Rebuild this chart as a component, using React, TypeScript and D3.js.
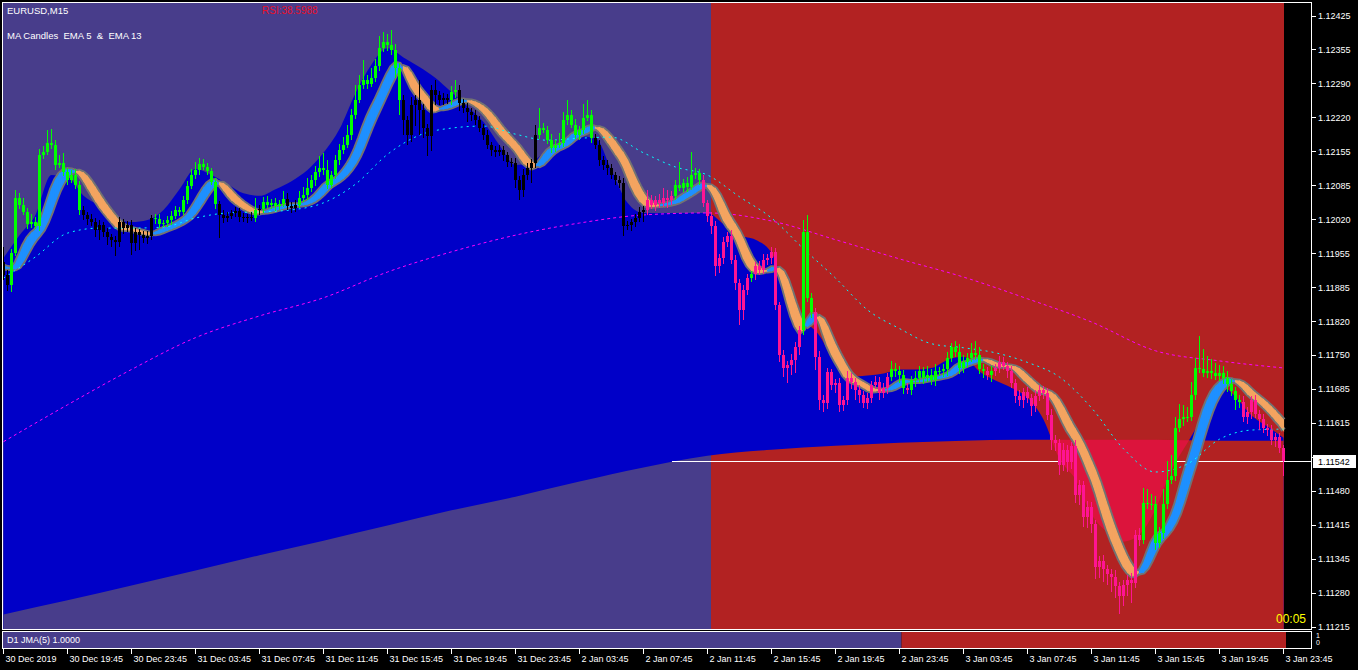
import React from 'react';
import * as d3 from 'd3';

// ---------- DATA (prices in points above 1.11000, 1 point = 0.00001) ----------
const firstOpen = 937;
const closes = [
  911,892,955,1064,1050,1036,1012,1016,1008,1149,
  1154,1172,1168,1129,1133,1115,1099,1109,1089,1040,
  1030,1022,1016,1000,1010,996,986,981,977,1016,
  1004,1010,975,996,990,984,988,1024,1022,1012,
  1014,1020,1028,1040,1036,1060,1087,1109,1119,1131,
  1125,1117,1095,1052,1030,1024,1028,1034,1038,1026,
  1024,1026,1024,1040,1042,1056,1050,1054,1048,1052,
  1062,1048,1044,1050,1064,1069,1083,1099,1115,1123,
  1119,1089,1109,1139,1158,1168,1188,1228,1257,1287,
  1297,1289,1301,1325,1360,1372,1366,1356,1321,1257,
  1218,1188,1247,1257,1238,1202,1186,1277,1267,1257,
  1261,1257,1273,1277,1251,1241,1234,1228,1218,1202,
  1188,1168,1158,1154,1158,1149,1135,1133,1099,1079,
  1109,1123,1133,1188,1202,1198,1178,1162,1168,1172,
  1218,1228,1208,1188,1198,1222,1228,1182,1168,1139,
  1129,1123,1109,1099,1093,1008,1010,1016,1024,1036,
  1040,1060,1050,1060,1054,1064,1060,1068,1089,1083,
  1093,1085,1109,1113,1099,1054,1028,1008,929,945,
  977,988,941,896,842,882,905,913,929,921,
  941,945,957,851,753,727,733,743,769,803,
  996,865,837,749,664,658,719,694,698,654,
  664,708,700,684,674,658,668,694,700,678,
  688,710,724,720,714,688,684,704,708,720,
  708,714,704,720,720,724,747,769,759,727,
  739,747,757,753,724,720,714,720,727,739,
  731,720,698,672,664,680,668,652,672,684,
  678,633,585,579,534,565,541,573,476,496,
  431,451,417,332,344,328,318,314,296,275,
  298,308,302,397,387,459,457,457,381,401,
  457,506,514,609,625,629,629,674,727,725,
  717,720,717,711,717,708,696,682,664,660,
  629,639,664,635,625,609,605,585,591,569,542
];
const wickUp = [
  30,10,8,16,10,14,8,16,10,12, 12,26,28,10,16,20,8,10,12,8,
  8,6,10,8,10,6,8,6,8,10, 6,8,10,8,6,8,10,6,8,10,
  6,8,10,8,6,8,10,12,16,12, 10,8,6,8,6,10,8,6,8,6,
  8,6,10,24,8,10,12,8,10,8, 16,12,8,10,14,16,20,10,12,24,
  30,20,8,10,12,16,20,12,30,20, 40,10,20,14,24,20,16,30,12,10,
  10,8,16,10,40,12,8,10,20,8, 10,8,12,20,10,8,10,8,10,8,
  8,10,6,8,10,8,6,8,10,8, 12,10,8,20,40,10,8,12,10,20,
  16,30,10,12,8,28,30,10,8,10, 8,10,8,6,8,10,8,6,8,10,
  8,20,10,8,12,20,16,10,10,46, 8,12,46,10,8,10,6,8,10,8,
  10,8,12,10,8,10,8,6,8,10, 12,8,10,8,6,10,8,12,10,8,
  24,34,10,8,12,10,8,6,8,10, 8,12,10,8,10,8,10,8,12,10,
  10,8,16,12,10,8,10,8,12,10, 8,16,10,14,8,10,12,8,12,16,
  14,10,20,24,16,10,8,10,8,12, 10,8,10,8,12,8,10,8,12,10,
  8,10,12,10,8,14,10,8,12,10, 8,12,10,8,10,12,8,10,12,8,
  10,8,12,10,14,30,28,20,16,12, 30,36,40,20,30,24,20,26,20,64,
  40,30,24,20,16,14,12,10,8,10, 12,10,8,10,8,10,8,10,8,8,6
];
const wickDn = [
  10,12,14,6,8,6,10,8,6,10, 8,6,8,10,6,8,10,6,8,10,
  10,12,8,14,20,10,16,14,28,10, 12,8,24,16,30,10,12,8,10,8,
  6,8,10,6,8,6,8,6,8,10, 6,8,6,10,46,10,8,6,8,10,
  8,10,6,8,10,8,6,8,10,8, 6,8,10,8,6,8,10,8,12,10,
  10,8,6,8,10,8,6,10,8,6, 8,10,6,8,10,8,12,10,20,30,
  30,20,14,40,50,20,40,30,20,10, 10,8,10,12,16,10,20,12,10,8,
  10,8,12,10,8,12,10,8,16,20, 14,10,30,10,8,6,8,10,8,6,
  8,10,6,8,10,8,6,10,8,12, 10,14,8,10,10,20,8,12,10,8,
  20,10,8,12,10,8,16,10,8,6, 8,10,6,8,10,8,12,16,20,14,
  12,10,8,14,30,20,10,8,12,10, 8,10,12,10,14,18,30,20,26,16,
  10,8,12,26,20,18,12,10,16,14, 12,10,14,20,16,10,12,10,8,14,
  10,12,8,10,16,12,8,10,14,10, 12,8,10,12,8,10,12,8,10,12,
  10,12,8,10,8,12,10,14,8,10, 8,12,10,14,12,16,10,20,12,10,
  12,10,20,16,18,12,20,14,16,20, 18,20,16,22,20,24,20,30,24,36,
  20,22,40,10,12,8,10,12,14,10, 12,10,8,10,8,12,10,8,10,8,
  8,10,12,8,10,12,16,10,20,12, 10,12,14,8,20,10,12,10,14,10,28
];
// candle colour runs: g = lime, k = black, p = deep pink
const colorRuns: [string, number][] = [
  ['k',2],['g',18],['k',18],['g',16],['k',9],['g',1],['k',1],['g',6],['k',3],['g',26],
  ['k',12],['g',2],['k',20],['g',14],['k',13],['p',7],['g',7],['p',12],['g',1],['p',12],
  ['g',3],['p',19],['g',4],['p',1],['g',19],['p',1],['g',1],['p',37],['g',25],['p',11]
];
// cyan dashed MA, every 8 bars
const cyanMA = [905,947,994,1004,1004,1006,1024,1034,1036,1040,1054,1091,1150,1188,1202,1206,1190,1178,1182,1184,1153,1125,1109,1066,1024,963,905,842,805,775,767,757,738,709,648,567,521,537,586,604,606];
// magenta dashed MA, every 16 bars
const magentaMA = [581,654,724,787,830,866,917,957,990,1014,1030,1034,1018,981,943,907,864,818,761,741,727];
// slow base line of the histogram, every 16 bars
const baseLine = [239,267,296,326,356,385,415,445,472,502,530,553,565,573,579,583,585,585,585,583,583];
// histogram level, every 4 bars
const histLevel = [
  945,990,1030,1109,1105,1068,1048,1022,1016,1020,
  1040,1081,1121,1109,1091,1073,1068,1081,1097,1119,
  1153,1200,1271,1328,1360,1342,1323,1301,1273,1245,
  1214,1168,1129,1135,1158,1174,1186,1182,1119,1054,
  1034,1034,1034,1034,1034,1012,990,981,955,876,
  824,791,735,710,712,716,724,724,727,743,
  749,720,702,688,668,625,547,506,437,402,
  383,397,447,525,579,634,694,670,633,611,589
];
const maPeriod1 = 5;   // first smoothing of OHLC
const maPeriod2 = 5;   // second smoothing of the Heikin-Ashi values
const priceLabels = ["1.12425","1.12355","1.12290","1.12220","1.12155","1.12085","1.12020","1.11955","1.11885","1.11820","1.11750","1.11685","1.11615","1.11550","1.11480","1.11415","1.11345","1.11280","1.11215"];
const timeLabels = ["30 Dec 2019","30 Dec 19:45","30 Dec 23:45","31 Dec 03:45","31 Dec 07:45","31 Dec 11:45","31 Dec 15:45","31 Dec 19:45","31 Dec 23:45","2 Jan 03:45","2 Jan 07:45","2 Jan 11:45","2 Jan 15:45","2 Jan 19:45","2 Jan 23:45","3 Jan 03:45","3 Jan 07:45","3 Jan 11:45","3 Jan 15:45","3 Jan 19:45","3 Jan 23:45"];
const currentPrice = 1.11542;
const trendSwitchBar = 177;   // main background turns red
const d1SwitchBar = 224.5;    // lower panel turns red

const C = {
  purple: '#483D8B', red: '#B22222', blue: '#0000C8', crimson: '#DC143C',
  lime: '#00FF00', pink: '#FF1493', ribbonUp: '#1E90FF', ribbonDn: '#F4A460', gray: '#737373',
  cyan: '#00FFFF', magenta: '#FF00FF'
};
const FONT = 'Liberation Sans, Arial, sans-serif';

export default function App() {
  const L = 3, T = 3, R = 1311, B = 629;
  const n = closes.length;
  const x = d3.scaleLinear().domain([0, n - 1]).range([3.5, 1283.5]);
  const y = d3.scaleLinear().domain([1.11215, 1.12425]).range([626.5, 15.5]);
  const P = (v: number) => 1.11 + v * 1e-5;
  const yv = (v: number) => y(P(v));

  const colors: string[] = [];
  colorRuns.forEach(([c, k]) => { for (let j = 0; j < k; j++) colors.push(c); });
  const colMap: Record<string, string> = { g: C.lime, k: '#000000', p: C.pink };

  const opens = closes.map((c, i) => (i === 0 ? firstOpen : closes[i - 1]));
  const highs = closes.map((c, i) => Math.max(opens[i], c) + wickUp[i]);
  const lows = closes.map((c, i) => Math.min(opens[i], c) - wickDn[i]);

  const ema = (src: number[], per: number) => {
    const a = 2 / (per + 1);
    const out: number[] = [];
    src.forEach((c, i) => out.push(i === 0 ? c : out[i - 1] + a * (c - out[i - 1])));
    return out;
  };
  // smoothed Heikin-Ashi ("MA candles")
  const sO = ema(opens, maPeriod1), sC = ema(closes, maPeriod1), sH = ema(highs, maPeriod1), sL = ema(lows, maPeriod1);
  const haC = sC.map((c, i) => (sO[i] + sH[i] + sL[i] + c) / 4);
  const haO: number[] = [];
  haC.forEach((c, i) => haO.push(i === 0 ? (sO[0] + sC[0]) / 2 : (haO[i - 1] + haC[i - 1]) / 2));
  const eo = ema(haO, maPeriod2), ec = ema(haC, maPeriod2);

  const lineFrom = (arr: number[], step: number) =>
    d3.line<number>().x((_, k) => x(k * step)).y(d => yv(d)).curve(d3.curveMonotoneX)(arr) || '';
  const areaFrom = (arr: number[], step: number, y0: number) =>
    d3.area<number>().x((_, k) => x(k * step)).y0(y0).y1(d => yv(d)).curve(d3.curveMonotoneX)(arr) || '';

  const histBelow = areaFrom(histLevel, 4, B);
  const histAbove = areaFrom(histLevel, 4, T);
  const baseBelow = areaFrom(baseLine, 16, B);
  const xSwitch = x(trendSwitchBar) - 0.5;
  const xEnd = x(n - 1) + 1.5;

  const ribbon = [];
  for (let i = 0; i < n - 1; i++) {
    const up = ec[i] + ec[i + 1] >= eo[i] + eo[i + 1];
    const col = up ? C.ribbonUp : C.ribbonDn;
    const pts = [[x(i), yv(ec[i])], [x(i + 1), yv(ec[i + 1])], [x(i + 1), yv(eo[i + 1])], [x(i), yv(eo[i])]];
    ribbon.push(<polygon key={i} points={pts.map(p => p.join(',')).join(' ')} fill={col} stroke={col} strokeWidth={1.2} />);
  }
  const oLine = d3.line<number>().x((_, i) => x(i)).y(d => yv(d))(eo) || '';
  const cLine = d3.line<number>().x((_, i) => x(i)).y(d => yv(d))(ec) || '';

  const candles = closes.map((c, i) => {
    const o = opens[i];
    const col = colMap[colors[i]];
    const top = yv(Math.max(o, c)), bot = yv(Math.min(o, c));
    const cx = Math.round(x(i) - 0.5);
    return (
      <g key={i}>
        <rect x={cx} y={Math.round(yv(highs[i]))} width={1} height={Math.max(1, Math.round(yv(lows[i])) - Math.round(yv(highs[i])))} fill={col} />
        <rect x={cx - 1} y={Math.round(top)} width={3} height={Math.max(1, Math.round(bot) - Math.round(top))} fill={col} />
      </g>
    );
  });

  const tickY = (k: number) => 15.5 + k * (611 / 18);
  const curY = Math.round(y(currentPrice)) + 0.5;

  return (
    <svg width={1358} height={670} style={{ position: 'absolute', left: 0, top: 0, display: 'block' }} fontFamily={FONT}>
      <defs>
        <clipPath id="plot"><rect x={L} y={T} width={R - L} height={B - T} /></clipPath>
        <clipPath id="belowBase"><path d={baseBelow} /></clipPath>
        <clipPath id="aboveHist"><path d={histAbove} /></clipPath>
        <clipPath id="dataX"><rect x={L} y={T} width={xEnd - L} height={B - T} /></clipPath>
        <clipPath id="hiddenLabel"><rect x={1316} y={440} width={42} height={14} /></clipPath>
      </defs>
      <rect x={0} y={0} width={1358} height={670} fill="#000" />
      <g clipPath="url(#plot)">
        <rect x={L} y={T} width={xSwitch - L} height={B - T} fill={C.purple} />
        <rect x={xSwitch} y={T} width={xEnd - 1 - xSwitch} height={B - T} fill={C.red} />
        <g clipPath="url(#dataX)">
          <path d={histBelow} fill={C.blue} />
          <g clipPath="url(#belowBase)">
            <rect x={L} y={T} width={xSwitch - L} height={B - T} fill={C.purple} />
            <rect x={xSwitch} y={T} width={xEnd - 1 - xSwitch} height={B - T} fill={C.red} />
          </g>
        </g>
        <line x1={672} x2={R} y1={curY} y2={curY} stroke="#fff" strokeWidth={1} />
        <g clipPath="url(#dataX)">
          <g clipPath="url(#aboveHist)">
            <path d={baseBelow} fill={C.crimson} />
          </g>
        </g>
        <path d={lineFrom(magentaMA, 16)} fill="none" stroke={C.magenta} strokeWidth={1} strokeDasharray="3,3" />
        <path d={oLine} fill="none" stroke={C.gray} strokeWidth={5} />
        <path d={cLine} fill="none" stroke={C.gray} strokeWidth={5} />
        {ribbon}
        <path d={lineFrom(cyanMA, 8)} fill="none" stroke={C.cyan} strokeWidth={1} strokeDasharray="2,4" />
        {candles}
      </g>
      <rect x={2.5} y={2.5} width={1309} height={627} fill="none" stroke="#fff" strokeWidth={1} />

      {/* price axis */}
      {priceLabels.map((t, k) => (
        <g key={t}>
          <line x1={1312} x2={1316} y1={Math.round(tickY(k)) + 0.5} y2={Math.round(tickY(k)) + 0.5} stroke="#fff" />
          {t === '1.11550'
            ? <text x={1318} y={tickY(k) + 3.5} fill="#fff" fontSize={9} clipPath="url(#hiddenLabel)">{t}</text>
            : <text x={1318} y={tickY(k) + 3.5} fill="#fff" fontSize={9}>{t}</text>}
        </g>
      ))}
      <rect x={1313} y={455} width={43} height={13} fill="#fff" />
      <text x={1318} y={y(currentPrice) + 3.5} fill="#000" fontSize={9}>{currentPrice.toFixed(5)}</text>

      {/* lower indicator panel */}
      <rect x={3} y={632} width={x(d1SwitchBar) - 3} height={16} fill={C.purple} />
      <rect x={x(d1SwitchBar)} y={632} width={1286 - x(d1SwitchBar)} height={16} fill={C.red} />
      <rect x={2.5} y={631.5} width={1309} height={17} fill="none" stroke="#fff" strokeWidth={1} />
      <text x={7} y={643} fill="#fff" fontSize={9}>D1 JMA(5) 1.0000</text>
      <text x={1316} y={638} fill="#fff" fontSize={7}>1</text>
      <text x={1316} y={645} fill="#fff" fontSize={7}>0</text>

      {/* time axis */}
      {timeLabels.map((t, k) => {
        const tx = Math.round(x(k * 16) - 0.5) + 0.5;
        return (
          <g key={t}>
            <line x1={tx} x2={tx} y1={649} y2={654} stroke="#fff" />
            <text x={tx + 2} y={662} fill="#fff" fontSize={9}>{t}</text>
          </g>
        );
      })}

      {/* labels */}
      <text x={7} y={14} fill="#fff" fontSize={9.5}>EURUSD,M15</text>
      <text x={262} y={14} fill="#E8102A" fontSize={10}>RSI:38.5988</text>
      <text x={7} y={39} fill="#fff" fontSize={9.5} style={{ whiteSpace: 'pre' }}>{'MA Candles  EMA 5  &  EMA 13'}</text>
      <text x={1276} y={623} fill="#FFFF00" fontSize={12}>00:05</text>
    </svg>
  );
}
